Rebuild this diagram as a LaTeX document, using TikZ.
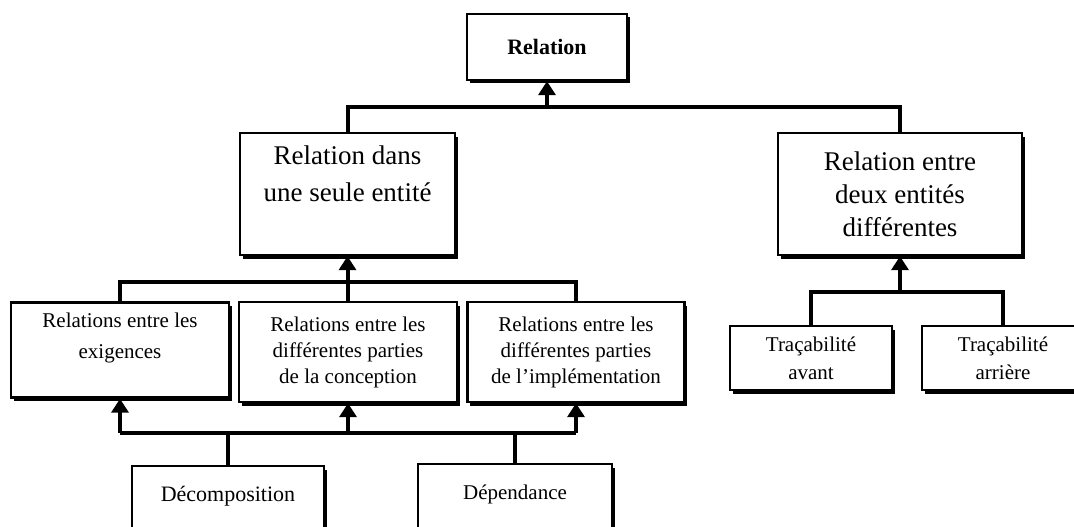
\documentclass[tikz,border=0pt]{standalone}
\usepackage{fontspec}
\setmainfont{Liberation Serif}
\usetikzlibrary{arrows.meta,shadows}

\begin{document}
\begin{tikzpicture}[x=1pt, y=-1pt,
    box/.style={draw, line width=2.4pt, fill=white, align=center, inner sep=2pt,
        drop shadow={shadow xshift=2.5pt, shadow yshift=-3.5pt, fill=black, opacity=1}},
    bus/.style={line width=4pt},
    up/.style={line width=4pt, -{Triangle[length=14pt, width=17pt]}},
    bigtext/.style={font=\fontsize{27}{37}\selectfont},
    midtext/.style={font=\fontsize{21}{26}\selectfont},
    smalltext/.style={font=\fontsize{21}{28}\selectfont}]

    % Frame of the page
    \useasboundingbox (0,0) rectangle (1074,527);
    \clip (0,0) rectangle (1074,527);

    % Top level
    \node[box, font=\fontsize{22}{26}\selectfont, minimum width=160, minimum height=66] (relation) at (547,47) {\textbf{Relation}};

    % Second level
    \node[box, bigtext, minimum width=215, minimum height=122] (dans) at (347.5,194)
        {Relation dans\\une seule entité\\[-8pt]\strut};
    \node[box, bigtext, font=\fontsize{27}{33}\selectfont, minimum width=244, minimum height=122] (entre) at (900,194)
        {Relation entre\\deux entités\\différentes};

    % Third level
    \node[box, midtext, font=\fontsize{21}{31}\selectfont, minimum width=218, minimum height=95] (exig) at (120,350)
        {Relations entre les\\exigences\\[-12pt]\strut};
    \node[box, midtext, minimum width=218, minimum height=100] (conc) at (348,352)
        {Relations entre les\\différentes parties\\de la conception};
    \node[box, midtext, minimum width=217, minimum height=100] (impl) at (576,352)
        {Relations entre les\\différentes parties\\de l’implémentation};
    \node[box, smalltext, minimum width=162, minimum height=64] (avant) at (811,358)
        {Traçabilité\\avant};
    \node[box, smalltext, minimum width=162, minimum height=64] (arriere) at (1003,358)
        {Traçabilité\\arrière};

    % Bottom level
    \node[box, midtext, font=\fontsize{22}{26}\selectfont, minimum width=192, minimum height=90] (deco) at (228,511)
        {Décomposition\\\strut};
    \node[box, midtext, minimum width=194, minimum height=90] (depe) at (515,509)
        {Dépendance\\\strut};

    % Junctions of the buses
    \coordinate (j1) at (547,107);
    \coordinate (j2) at (347.5,282);
    \coordinate (j3) at (348,433);
    \coordinate (j4) at (900,292);

    % Links to the top
    \draw[bus] (dans.north) |- (j1) -| (entre.north);
    \draw[up] (j1) -- (relation.south);

    % Links to the second level
    \draw[bus] (exig.north) |- (j2) -| (impl.north);
    \draw[bus] (conc.north) -- (conc.north |- j2);
    \draw[up] (j2) -- (dans.south);
    \draw[bus] (avant.north) |- (j4) -| (arriere.north);
    \draw[up] (j4) -- (entre.south);

    % Links from the bottom level
    \draw[bus] (exig.south |- j3) -- (impl.south |- j3);
    \foreach \n in {exig,conc,impl}
        \draw[up] (\n.south |- j3) -- (\n.south);
    \draw[bus] (deco.north) -- (deco.north |- j3);
    \draw[bus] (depe.north) -- (depe.north |- j3);
\end{tikzpicture}
\end{document}
